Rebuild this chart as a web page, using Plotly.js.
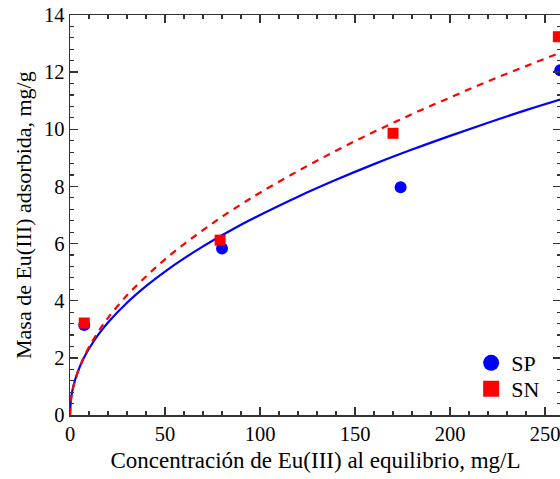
<!DOCTYPE html>
<html>
<head>
<meta charset="utf-8">
<script src="https://cdn.plot.ly/plotly-3.0.1.min.js"></script>
<style>html,body{margin:0;padding:0;overflow:hidden;background:#fff;}</style>
</head>
<body>
<div id="chart"></div>
<script>
// Experimental points
const spC = [7.5, 80, 174, 258];
const spQ = [3.15, 5.83, 7.97, 12.07];
const snC = [7.5, 79, 170, 257];
const snQ = [3.22, 6.12, 9.86, 13.24];

// Fitted curves, values
const curveC = [0, 0.5, 1, 2, 4, 7, 10, 15, 20, 30, 40, 50, 60, 70, 80, 90, 100, 120, 140, 160, 180, 200, 220, 240, 260];
const spFit = [0, 0.55, 0.77, 1.07, 1.49, 1.96, 2.32, 2.82, 3.24, 3.93, 4.51, 5.02, 5.48, 5.90, 6.29, 6.66, 7.00, 7.64, 8.23, 8.78, 9.29, 9.77, 10.23, 10.67, 11.08];
const snFit = [0, 0.51, 0.73, 1.04, 1.48, 1.98, 2.38, 2.93, 3.40, 4.19, 4.85, 5.45, 5.98, 6.47, 6.94, 7.37, 7.78, 8.54, 9.25, 9.91, 10.53, 11.11, 11.68, 12.21, 12.73];

const seriesNames = ["SP", "SN"];
const xTitle = "Concentración de Eu(III) al equilibrio, mg/L";
const yTitle = "Masa de Eu(III) adsorbida, mg/g";

const serif = "Liberation Serif, Times New Roman, serif";

const traces = [
  {x: curveC, y: spFit, mode: "lines", line: {color: "#0000ff", width: 2.2, shape: "spline"}, showlegend: false, hoverinfo: "skip"},
  {x: curveC, y: snFit, mode: "lines", line: {color: "#ff0000", width: 2.2, dash: "7px,6px", shape: "spline"}, showlegend: false, hoverinfo: "skip"},
  {x: spC, y: spQ, mode: "markers", name: seriesNames[0], showlegend: false, marker: {symbol: "circle", size: 12, color: "#0000ff"}},
  {x: snC, y: snQ, mode: "markers", name: seriesNames[1], showlegend: false, marker: {symbol: "square", size: 11, color: "#ff0000"}},
  // legend entries (larger key symbols, no data drawn)
  {x: [null], y: [null], mode: "markers", name: seriesNames[0], legend: "legend", marker: {symbol: "circle", size: 16, color: "#0000ff"}},
  {x: [null], y: [null], mode: "markers", name: seriesNames[1], legend: "legend2", marker: {symbol: "square", size: 16, color: "#ff0000"}}
];

const axisCommon = {
  showgrid: false, zeroline: false,
  showline: true, linecolor: "#333", linewidth: 1.5,
  mirror: "ticks", ticks: "inside", ticklen: 8, tickwidth: 1.3, tickcolor: "#333",
  tickfont: {family: serif, size: 20.5, color: "#000"},
};

const legendCommon = {
  xanchor: "left", yanchor: "top",
  font: {family: serif, size: 22, color: "#000"},
  bgcolor: "rgba(0,0,0,0)", itemwidth: 30
};

const layout = {
  width: 563, height: 479,
  margin: {l: 70, r: 2, t: 15, b: 64},
  paper_bgcolor: "#fff", plot_bgcolor: "#fff",
  font: {family: serif, color: "#000"},
  xaxis: Object.assign({}, axisCommon, {
    range: [0, 258.4], tickmode: "linear", tick0: 0, dtick: 50,
    minor: {dtick: 10, ticks: "inside", ticklen: 4, tickwidth: 1.2, tickcolor: "#333"},
    title: {text: xTitle, font: {family: serif, size: 23, color: "#000"}, standoff: 8}
  }),
  yaxis: Object.assign({}, axisCommon, {
    range: [0, 14], tickmode: "linear", tick0: 0, dtick: 2,
    minor: {dtick: 0.4, ticks: "inside", ticklen: 4, tickwidth: 1.2, tickcolor: "#333"}
  }),
  annotations: [{
    text: yTitle, xref: "paper", yref: "paper", x: -0.0957, y: 0.5,
    xanchor: "center", yanchor: "middle", textangle: -90, showarrow: false,
    font: {family: serif, size: 22, color: "#000"}
  }],
  legend: Object.assign({}, legendCommon, {x: 0.817, y: 0.1825}),
  legend2: Object.assign({}, legendCommon, {x: 0.817, y: 0.1175}),
  showlegend: true
};

Plotly.newPlot("chart", traces, layout, {displayModeBar: false, staticPlot: true});
</script>
</body>
</html>
